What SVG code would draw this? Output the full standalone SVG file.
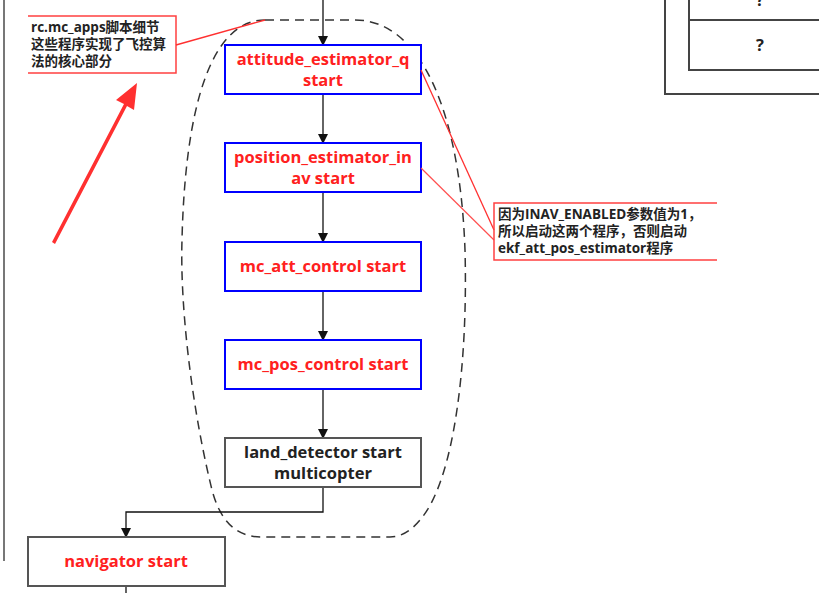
<svg xmlns="http://www.w3.org/2000/svg" width="819" height="593" viewBox="0 0 819 593">
<defs>
<style>
.b{fill:#fff;stroke:#0000ff;stroke-width:2}
.g{fill:#fff;stroke:#555;stroke-width:2}
.t{font-family:"Open Sans","Noto Sans CJK SC",sans-serif;font-weight:bold;font-size:16.5px;text-anchor:middle}
.r{fill:#ff2020}
.k{fill:#222}
.c{font-family:"Open Sans","Noto Sans CJK SC",sans-serif;font-weight:bold;font-size:13.5px;fill:#222}
.e{stroke:#111;stroke-width:1.3;fill:none}
</style>
<marker id="a" markerWidth="10" markerHeight="10" refX="9" refY="5" orient="auto" markerUnits="userSpaceOnUse"><path d="M0,0L10,5L0,10z" fill="#111"/></marker>
</defs>
<rect width="819" height="593" fill="#fff"/>
<line x1="4" y1="0" x2="4" y2="561" stroke="#777" stroke-width="2"/>
<g id="rightbox" fill="none" stroke="#444" stroke-width="2">
<path d="M665,0V94H819"/><path d="M689,0V70H819M689,20H819"/>
<text x="760" y="51" class="t k" stroke="none">?</text>
<text x="760" y="6" class="t k" stroke="none">?</text>
</g>
<path id="dashed" d="M265,20 L355,20 C420,20 460,110 465,250 C468,360 455,480 420,520 C410,532 400,537 390,537 L262,537 C235,537 220,520 212,490 C190,400 180,300 182,240 C185,110 210,20 265,20 Z" fill="none" stroke="#333" stroke-width="1.5" stroke-dasharray="9,6"/>
<g id="connectors">
<line x1="323" y1="0" x2="323" y2="45" class="e" marker-end="url(#a)"/>
<line x1="323" y1="94" x2="323" y2="143" class="e" marker-end="url(#a)"/>
<line x1="323" y1="192" x2="323" y2="242" class="e" marker-end="url(#a)"/>
<line x1="323" y1="291" x2="323" y2="340" class="e" marker-end="url(#a)"/>
<line x1="323" y1="389" x2="323" y2="438" class="e" marker-end="url(#a)"/>
<path d="M323,487V512H126V537" class="e" marker-end="url(#a)"/>
<line x1="126" y1="586" x2="126" y2="593" class="e"/>
</g>
<g id="n1"><rect x="225" y="45" width="196" height="49" class="b"/><text x="323" y="65" class="t r">attitude_estimator_q</text><text x="323" y="86" class="t r">start</text></g>
<g id="n2"><rect x="225" y="143" width="196" height="49" class="b"/><text x="323" y="163" class="t r">position_estimator_in</text><text x="323" y="184" class="t r">av start</text></g>
<g id="n3"><rect x="225" y="242" width="196" height="49" class="b"/><text x="323" y="272" class="t r">mc_att_control start</text></g>
<g id="n4"><rect x="225" y="340" width="196" height="49" class="b"/><text x="323" y="370" class="t r">mc_pos_control start</text></g>
<g id="n5"><rect x="225" y="438" width="196" height="49" class="g"/><text x="323" y="458" class="t k">land_detector start</text><text x="323" y="479" class="t k">multicopter</text></g>
<g id="n6"><rect x="28" y="537" width="197" height="49" class="g"/><text x="126" y="567" class="t r">navigator start</text></g>
<g id="note1">
<path d="M28,16H176V73H28" fill="#fff" stroke="#ff4040" stroke-width="1.5"/>
<line x1="176" y1="45" x2="265" y2="20" stroke="#ff3030" stroke-width="1.3"/>
<text class="c"><tspan x="31" y="32">rc.mc_apps脚本细节</tspan><tspan x="31" y="49">这些程序实现了飞控算</tspan><tspan x="31" y="66">法的核心部分</tspan></text>
</g>
<path id="bigarrow" d="M52,242 L124,104 L116,100 L137,83 L134,110 L127,106 L55,244 Z" fill="#ff3030"/>
<g id="note2">
<line x1="421" y1="70" x2="494" y2="230" stroke="#ff3030" stroke-width="1.3"/>
<line x1="421" y1="168" x2="494" y2="240" stroke="#ff5050" stroke-width="1.2"/>
<path d="M717,203H494V260H717" fill="none" stroke="#ff4040" stroke-width="1.5"/>
<text class="c"><tspan x="498" y="219">因为INAV_ENABLED参数值为1，</tspan><tspan x="498" y="236">所以启动这两个程序，否则启动</tspan><tspan x="498" y="253">ekf_att_pos_estimator程序</tspan></text>
</g>
</svg>
